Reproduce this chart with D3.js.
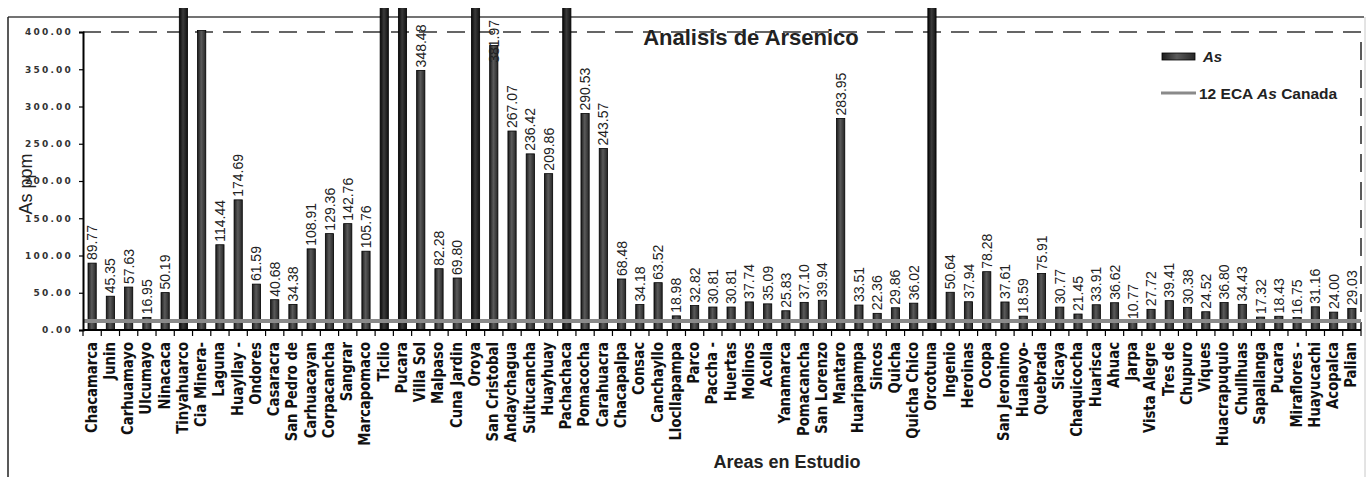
<!DOCTYPE html>
<html><head><meta charset="utf-8">
<script src="https://cdn.jsdelivr.net/npm/d3@7"></script>
<style>
html,body{margin:0;padding:0;background:#fff;}
svg{display:block;}
</style></head>
<body>
<svg id="c" width="1370" height="477"></svg>
<script>
const categories = ["Chacamarca","Junin","Carhuamayo","Ulcumayo","Ninacaca","Tinyahuarco","Cia Minera-","Laguna","Huayllay -","Ondores","Casaracra","San Pedro de","Carhuacayan","Corpacancha","Sangrar","Marcapomaco","Ticlio","Pucara","Villa Sol","Malpaso","Cuna Jardin","Oroya","San Cristobal","Andaychagua","Suitucancha","Huayhuay","Pachachaca","Pomacocha","Carahuacra","Chacapalpa","Consac","Canchayllo","Llocllapampa","Parco","Paccha -","Huertas","Molinos","Acolla","Yanamarca","Pomacancha","San Lorenzo","Mantaro","Huaripampa","Sincos","Quicha","Quicha Chico","Orcotuna","Ingenio","Heroinas","Ocopa","San Jeronimo","Hualaoyo-","Quebrada","Sicaya","Chaquicocha","Huarisca","Ahuac","Jarpa","Vista Alegre","Tres de","Chupuro","Viques","Huacrapuquio","Chullhuas","Sapallanga","Pucara","Miraflores -","Huayucachi","Acopalca","Palian"];
const asValues = [89.77,45.35,57.63,16.95,50.19,500,402,114.44,174.69,61.59,40.68,34.38,108.91,129.36,142.76,105.76,500,500,348.48,82.28,69.80,500,381.97,267.07,236.42,209.86,500,290.53,243.57,68.48,34.18,63.52,18.98,32.82,30.81,30.81,37.74,35.09,25.83,37.10,39.94,283.95,33.51,22.36,29.86,36.02,500,50.64,37.94,78.28,37.61,18.59,75.91,30.77,21.45,33.91,36.62,10.77,27.72,39.41,30.38,24.52,36.80,34.43,17.32,18.43,16.75,31.16,24.00,29.03];
const ecaCanada = 12;
const yTicks = [0,50,100,150,200,250,300,350,400];
const labelLimit = 400;

(function(){
const svg = d3.select("#c");
const W = 1370, H = 477;
const pLeft = 83, pRight = 1361, pTop = 32, pBottom = 330;

const idx = categories.map((c,i)=>i);
const x = d3.scaleBand().domain(idx).range([pLeft,pRight]).paddingInner(0.55).paddingOuter(0.275);
const y = d3.scaleLinear().domain([0,400]).range([pBottom,pTop]);

const defs = svg.append("defs");
function grad(id, stops){
  const g = defs.append("linearGradient").attr("id",id).attr("x1","0%").attr("x2","100%").attr("y1","0%").attr("y2","0%");
  stops.forEach(s=>g.append("stop").attr("offset",s[0]).attr("stop-color",s[1]));
}
grad("gBar",[["0%","#1c1c1c"],["45%","#5a5a5a"],["100%","#262626"]]);
grad("gDark",[["0%","#080808"],["45%","#3a3a3a"],["100%","#111"]]);
defs.append("clipPath").attr("id","clip").append("rect")
  .attr("x",0).attr("y",8).attr("width",W).attr("height",H);

// frame
svg.append("line").attr("x1",8).attr("x2",1364).attr("y1",17).attr("y2",17).attr("stroke","#444").attr("stroke-width",1.5);
svg.append("line").attr("x1",8).attr("x2",8).attr("y1",17).attr("y2",H).attr("stroke","#222").attr("stroke-width",1.5);
svg.append("line").attr("x1",1365).attr("x2",1365).attr("y1",17).attr("y2",H).attr("stroke","#c8c8c8").attr("stroke-width",1);

// dashed plot border
svg.append("path")
  .attr("d",`M${pLeft},${y(400)}H${pRight}V${y(0)}`)
  .attr("fill","none").attr("stroke","#333").attr("stroke-width",1.6).attr("stroke-dasharray","18,10");

// bars
svg.append("g").attr("clip-path","url(#clip)")
  .selectAll("rect").data(idx).join("rect")
  .attr("x",i=>x(i)).attr("width",x.bandwidth())
  .attr("y",i=>y(asValues[i])).attr("height",i=>y(0)-y(asValues[i]))
  .attr("fill",i=>asValues[i]>labelLimit+10?"url(#gDark)":"url(#gBar)")
  .attr("stroke","#000").attr("stroke-width",0.8);

// ECA line
svg.append("line").attr("x1",pLeft).attr("x2",pRight).attr("y1",y(ecaCanada)).attr("y2",y(ecaCanada))
  .attr("stroke","#8a8a8a").attr("stroke-width",4);

// value labels
const vl = svg.append("g").selectAll("text").data(idx.filter(i=>asValues[i]<labelLimit)).join("text")
  .text(i=>asValues[i].toFixed(2))
  .attr("font-family","'Liberation Sans',Arial,sans-serif").attr("font-size",14)
  .attr("fill","#222").attr("text-anchor","start").attr("dy","0.36em");
vl.each(function(i){
  const len = this.getComputedTextLength();
  const cx = x(i)+x.bandwidth()/2;
  const sy = Math.max(y(asValues[i])-3, 20+len);
  d3.select(this).attr("transform",`translate(${cx},${sy}) rotate(-90)`);
});

// axes
const yAxis = svg.append("g").attr("transform",`translate(${pLeft},0)`)
  .call(d3.axisLeft(y).tickValues(yTicks).tickFormat(d3.format(".2f")).tickSize(4).tickPadding(6));
yAxis.select(".domain").attr("stroke","#000").attr("stroke-width",2);
yAxis.selectAll(".tick line").attr("stroke","#000").attr("stroke-width",1.2);
yAxis.selectAll(".tick text").attr("font-family","'DejaVu Sans',sans-serif").attr("font-weight","bold")
  .attr("font-size",9).attr("letter-spacing","2.2px").attr("fill","#333");

svg.append("line").attr("x1",pLeft).attr("x2",pRight).attr("y1",pBottom).attr("y2",pBottom).attr("stroke","#000").attr("stroke-width",2);
const step = x.step();
const bounds = idx.map(i=>x(i)-(step-x.bandwidth())/2).concat([pRight]);
svg.append("g").selectAll("line").data(bounds).join("line")
  .attr("x1",d=>d).attr("x2",d=>d).attr("y1",pBottom).attr("y2",pBottom+6)
  .attr("stroke","#000").attr("stroke-width",1.2);

// category labels
const cl = svg.append("g").selectAll("text").data(idx).join("text")
  .text(i=>categories[i])
  .attr("font-family","'DejaVu Sans',sans-serif").attr("font-weight","bold").attr("font-size",15)
  .attr("fill","#111").attr("text-anchor","end").attr("dy","0.36em");
let refLen = 0;
cl.each(function(i){ if(categories[i]==="Chacamarca") refLen = this.getComputedTextLength(); });
const sc = refLen ? 91/refLen : 1;
cl.attr("transform",i=>`translate(${x(i)+x.bandwidth()/2-1},342) rotate(-90) scale(${sc},1)`);

// titles
svg.append("text").text("Analisis de Arsenico").attr("x",751).attr("y",45)
  .attr("text-anchor","middle").attr("font-family","'Liberation Sans',Arial,sans-serif")
  .attr("font-weight","bold").attr("font-size",22).attr("fill","#222");
svg.append("text").text("Areas en Estudio").attr("x",787).attr("y",468)
  .attr("text-anchor","middle").attr("font-family","'Liberation Sans',Arial,sans-serif")
  .attr("font-weight","bold").attr("font-size",18).attr("fill","#222");
svg.append("text").text("As ppm").attr("transform","translate(32,184) rotate(-90)")
  .attr("text-anchor","middle").attr("font-family","'Liberation Sans',Arial,sans-serif")
  .attr("font-size",18).attr("fill","#222");

// legend
svg.append("rect").attr("x",1162).attr("y",53).attr("width",33).attr("height",7)
  .attr("fill","url(#gBar)").attr("stroke","#000").attr("stroke-width",0.8);
svg.append("text").text("As").attr("x",1203).attr("y",62)
  .attr("font-family","'Liberation Sans',Arial,sans-serif").attr("font-weight","bold").attr("font-style","italic")
  .attr("font-size",15).attr("fill","#222");
svg.append("line").attr("x1",1161).attr("x2",1196).attr("y1",93).attr("y2",93).attr("stroke","#8a8a8a").attr("stroke-width",3);
const lt = svg.append("text").attr("x",1199).attr("y",98.5)
  .attr("font-family","'Liberation Sans',Arial,sans-serif").attr("font-weight","bold")
  .attr("font-size",15.5).attr("fill","#222");
lt.append("tspan").text("12 ECA ");
lt.append("tspan").text("As").attr("font-style","italic");
lt.append("tspan").text(" Canada");
})();
</script>
</body></html>
